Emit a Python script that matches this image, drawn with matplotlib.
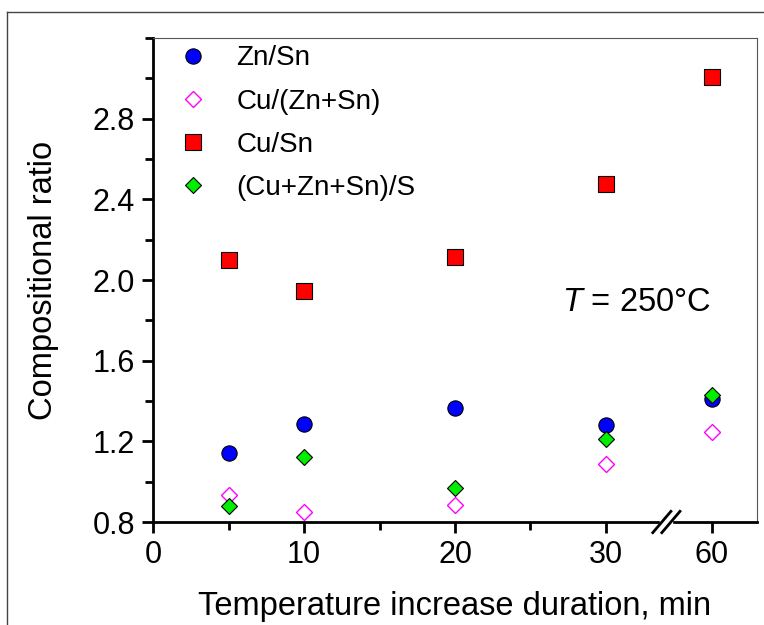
import matplotlib.pyplot as plt
from matplotlib.lines import Line2D
from matplotlib.ticker import MultipleLocator, FixedLocator

plt.rcParams['font.family'] = ['Liberation Sans', 'DejaVu Sans']
plt.rcParams['mathtext.fontset'] = 'custom'
plt.rcParams['mathtext.it'] = 'Liberation Sans:italic'
plt.rcParams['mathtext.rm'] = 'Liberation Sans'

# Data
durations = [5, 10, 20, 30, 60]
zn_sn = [1.14, 1.285, 1.365, 1.28, 1.41]
cu_znsn = [0.935, 0.85, 0.885, 1.09, 1.245]
cu_sn = [2.10, 1.945, 2.115, 2.475, 3.005]
metal_s = [0.88, 1.12, 0.97, 1.21, 1.43]

tick_labels = ['0', '10', '20', '30', '60']

# broken axis: 60 min is drawn at position 37
def xpos(v):
    return v if v <= 30 else 37

xs = [xpos(v) for v in durations]

fig = plt.figure(figsize=(7.64, 6.25), dpi=100)
ax = fig.add_axes([0.2003, 0.1648, 0.7905, 0.7744])

ax.plot(xs, zn_sn, 'o', ms=11, mfc='#0000ff', mec='black', mew=0.8, label='Zn/Sn')
ax.plot(xs, cu_znsn, 'D', ms=8, mfc='white', mec='#ff00ff', mew=1.0, label='Cu/(Zn+Sn)')
ax.plot(xs, cu_sn, 's', ms=11, mfc='#ff0000', mec='black', mew=0.8, label='Cu/Sn')
ax.plot(xs, metal_s, 'D', ms=8, mfc='#00ee00', mec='black', mew=0.8, label='(Cu+Zn+Sn)/S')

ax.set_xlim(0, 40)
ax.set_ylim(0.8, 3.2)

ax.xaxis.set_major_locator(FixedLocator([xpos(v) for v in [0, 10, 20, 30, 60]]))
ax.set_xticklabels(tick_labels)
ax.xaxis.set_minor_locator(FixedLocator([5, 15, 25]))
ax.yaxis.set_major_locator(FixedLocator([0.8, 1.2, 1.6, 2.0, 2.4, 2.8]))
ax.yaxis.set_major_formatter(plt.FuncFormatter(lambda v, p: f'{v:.1f}'))
ax.yaxis.set_minor_locator(MultipleLocator(0.2))

ax.tick_params(which='major', direction='out', length=8, width=2, labelsize=22, pad=5)
ax.tick_params(which='minor', direction='out', length=6, width=2)
ax.tick_params(top=False, right=False, which='both')

for s in ['left', 'bottom']:
    ax.spines[s].set_linewidth(2)
    ax.spines[s].set_color('black')
for s in ['top', 'right']:
    ax.spines[s].set_linewidth(0.8)
    ax.spines[s].set_color('#555555')

ax.set_ylabel('Compositional ratio', fontsize=23.5, labelpad=24)
ax.set_xlabel('Temperature increase duration, min', fontsize=23.5, labelpad=15)

ax.text(32, 1.89, r'$T$ = 250°C', fontsize=23.5, ha='center', va='center')

ax.legend(loc='upper left', bbox_to_anchor=(0.0, 1.025), frameon=False, fontsize=20,
          handletextpad=0.8, labelspacing=0.62, borderaxespad=0.3, handlelength=1.5)

# axis break marks
tr = ax.get_xaxis_transform()
ax.add_patch(plt.Rectangle((33.6, -0.01), 0.8, 0.02, transform=tr, color='white',
                           clip_on=False, zorder=5))
for dx in (-0.3, 0.3):
    ax.add_line(Line2D([34 + dx - 0.6, 34 + dx + 0.6], [-0.022, 0.022], transform=tr,
                       color='black', lw=2, clip_on=False, zorder=6))

# outer frame
fig.add_artist(Line2D([7 / 764, 7 / 764], [0, 1 - 12 / 625], color='#444444', lw=1))
fig.add_artist(Line2D([7 / 764, 1], [1 - 12 / 625, 1 - 12 / 625], color='#444444', lw=1))

fig.savefig('out.png', dpi=100)
